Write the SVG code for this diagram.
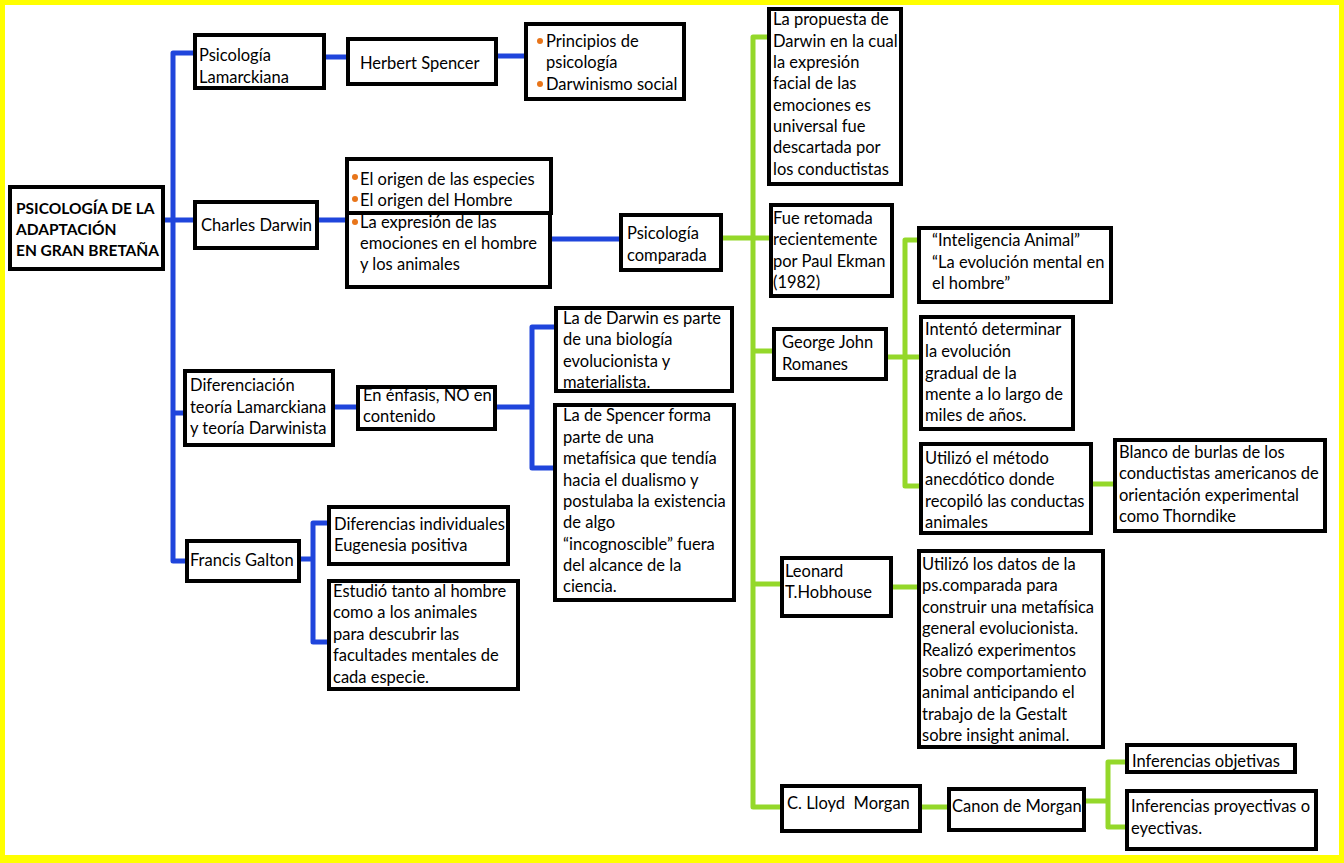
<svg xmlns="http://www.w3.org/2000/svg" width="1344" height="863" viewBox="0 0 1344 863">
<style>
.bx{fill:#fff;stroke:#000;stroke-width:4}
.t{font-family:Lato,"Liberation Sans",sans-serif;font-size:16.5px;fill:#000}
.tb{font-family:Lato,"Liberation Sans",sans-serif;font-size:15.5px;font-weight:bold;fill:#000}
.bl{stroke:#1f45dc;stroke-width:5;stroke-linecap:round;fill:none}
.gr{stroke:#94d82a;stroke-width:5;stroke-linecap:round;fill:none}
.dot{fill:#e8751a}
</style>
<rect x="0" y="0" width="1344" height="863" fill="#ffff00"/>
<rect x="5" y="5" width="1334" height="850" fill="#fff"/>

<g id="connectors">
<path class="bl" d="M173 53V561M173 53H193M165 220H193M173 413H185M173 561H187M326 57H346M498 56H524M319 220H345M552 239H619M335 407H356M497 407H532M532 327V468M532 327H554M532 468H554M300 559H313M313 523V642M313 523H327M313 642H327"/>
<path class="gr" d="M723 238H770M753 37V807M753 37H769M753 351H772M753 584H780M753 807H782M888 357H922M905 240V486M905 240H919M905 486H921M1093 484H1115M893 587H917M922 807H948M1086 801H1108M1108 762V827M1108 762H1127M1108 827H1127"/>
</g>

<g id="n-main"><rect class="bx" x="10" y="187" width="153" height="82"/>
<text class="tb"><tspan x="16" y="214">PSICOLOGÍA DE LA</tspan><tspan x="16" y="235">ADAPTACIÓN</tspan><tspan x="16" y="256">EN GRAN BRETAÑA</tspan></text></g>

<g id="n-lamarck"><rect class="bx" x="195" y="35" width="129" height="53"/>
<text class="t"><tspan x="199" y="61">Psicología</tspan><tspan x="199" y="83">Lamarckiana</tspan></text></g>

<g id="n-spencer"><rect class="bx" x="348" y="39" width="148" height="45"/>
<text class="t" x="360" y="69">Herbert Spencer</text></g>

<g id="n-principios"><rect class="bx" x="526" y="24" width="158" height="75"/>
<circle class="dot" cx="540" cy="41" r="3"/><circle class="dot" cx="540" cy="84" r="3"/>
<text class="t"><tspan x="546" y="47">Principios de</tspan><tspan x="546" y="68">psicología</tspan><tspan x="546" y="90">Darwinismo social</tspan></text></g>

<g id="n-darwin"><rect class="bx" x="195" y="202" width="122" height="46"/>
<text class="t" x="201" y="231">Charles Darwin</text></g>

<g id="n-books"><rect class="bx" x="347" y="159" width="204" height="54"/><rect class="bx" x="347" y="213" width="203" height="74"/>
<circle class="dot" cx="355" cy="177" r="3"/><circle class="dot" cx="355" cy="199" r="3"/><circle class="dot" cx="355" cy="222" r="3"/>
<text class="t"><tspan x="360" y="185">El origen de las especies</tspan><tspan x="360" y="206">El origen del Hombre</tspan><tspan x="360" y="228">La expresión de las</tspan><tspan x="360" y="249">emociones en el hombre</tspan><tspan x="360" y="270">y los animales</tspan></text></g>

<g id="n-comparada"><rect class="bx" x="621" y="215" width="100" height="55"/>
<text class="t"><tspan x="627" y="239">Psicología</tspan><tspan x="627" y="261">comparada</tspan></text></g>

<g id="n-propuesta"><rect class="bx" x="769" y="9" width="132" height="175"/>
<text class="t"><tspan x="773" y="25">La propuesta de</tspan><tspan x="773" y="47">Darwin en la cual</tspan><tspan x="773" y="68">la expresión</tspan><tspan x="773" y="89">facial de las</tspan><tspan x="773" y="111">emociones es</tspan><tspan x="773" y="132">universal fue</tspan><tspan x="773" y="153">descartada por</tspan><tspan x="773" y="175">los conductistas</tspan></text></g>

<g id="n-ekman"><rect class="bx" x="771" y="205" width="121" height="91"/>
<text class="t"><tspan x="773" y="224">Fue retomada</tspan><tspan x="773" y="245">recientemente</tspan><tspan x="773" y="267">por Paul Ekman</tspan><tspan x="773" y="288">(1982)</tspan></text></g>

<g id="n-inteligencia"><rect class="bx" x="919" y="228" width="192" height="74"/>
<text class="t"><tspan x="932" y="246">“Inteligencia Animal”</tspan><tspan x="932" y="268">“La evolución mental en</tspan><tspan x="932" y="289">el hombre”</tspan></text></g>

<g id="n-romanes"><rect class="bx" x="774" y="329" width="112" height="50"/>
<text class="t"><tspan x="782" y="348">George John</tspan><tspan x="782" y="370">Romanes</tspan></text></g>

<g id="n-intento"><rect class="bx" x="921" y="317" width="152" height="112"/>
<text class="t"><tspan x="925" y="335">Intentó determinar</tspan><tspan x="925" y="357">la evolución</tspan><tspan x="925" y="379">gradual de la</tspan><tspan x="925" y="400">mente a lo largo de</tspan><tspan x="925" y="421">miles de años.</tspan></text></g>

<g id="n-metodo"><rect class="bx" x="921" y="444" width="170" height="89"/>
<text class="t"><tspan x="925" y="464">Utilizó el método</tspan><tspan x="925" y="485">anecdótico donde</tspan><tspan x="925" y="507">recopiló las conductas</tspan><tspan x="925" y="528">animales</tspan></text></g>

<g id="n-blanco"><rect class="bx" x="1115" y="440" width="210" height="91"/>
<text class="t"><tspan x="1119" y="458">Blanco de burlas de los</tspan><tspan x="1119" y="479">conductistas americanos de</tspan><tspan x="1119" y="501">orientación experimental</tspan><tspan x="1119" y="522">como Thorndike</tspan></text></g>

<g id="n-diferenciacion"><rect class="bx" x="185" y="371" width="148" height="74"/>
<text class="t"><tspan x="190" y="391">Diferenciación</tspan><tspan x="190" y="413">teoría Lamarckiana</tspan><tspan x="190" y="434">y teoría Darwinista</tspan></text></g>

<g id="n-enfasis"><rect class="bx" x="358" y="387" width="137" height="42"/>
<text class="t"><tspan x="363" y="401">En énfasis, NO en</tspan><tspan x="363" y="422">contenido</tspan></text></g>

<g id="n-ladarwin"><rect class="bx" x="556" y="308" width="176" height="83"/>
<text class="t"><tspan x="563" y="324">La de Darwin es parte</tspan><tspan x="563" y="345">de una biología</tspan><tspan x="563" y="367">evolucionista y</tspan><tspan x="563" y="388">materialista.</tspan></text></g>

<g id="n-laspencer"><rect class="bx" x="555" y="405" width="179" height="195"/>
<text class="t"><tspan x="563" y="421">La de Spencer forma</tspan><tspan x="563" y="443">parte de una</tspan><tspan x="563" y="464">metafísica que tendía</tspan><tspan x="563" y="486">hacia el dualismo y</tspan><tspan x="563" y="507">postulaba la existencia</tspan><tspan x="563" y="528">de algo</tspan><tspan x="563" y="550">“incognoscible” fuera</tspan><tspan x="563" y="571">del alcance de la</tspan><tspan x="563" y="592">ciencia.</tspan></text></g>

<g id="n-galton"><rect class="bx" x="187" y="541" width="112" height="40"/>
<text class="t" x="190" y="566">Francis Galton</text></g>

<g id="n-diferencias"><rect class="bx" x="329" y="507" width="179" height="57"/>
<text class="t"><tspan x="334" y="530">Diferencias individuales</tspan><tspan x="334" y="551">Eugenesia positiva</tspan></text></g>

<g id="n-estudio"><rect class="bx" x="329" y="581" width="189" height="108"/>
<text class="t"><tspan x="333" y="597">Estudió tanto al hombre</tspan><tspan x="333" y="618">como a los animales</tspan><tspan x="333" y="640">para descubrir las</tspan><tspan x="333" y="661">facultades mentales de</tspan><tspan x="333" y="683">cada especie.</tspan></text></g>

<g id="n-leonard"><rect class="bx" x="782" y="558" width="109" height="58"/>
<text class="t"><tspan x="785" y="577">Leonard</tspan><tspan x="785" y="598">T.Hobhouse</tspan></text></g>

<g id="n-datos"><rect class="bx" x="919" y="551" width="184" height="196"/>
<text class="t"><tspan x="922" y="570">Utilizó los datos de la</tspan><tspan x="922" y="591">ps.comparada para</tspan><tspan x="922" y="613">construir una metafísica</tspan><tspan x="922" y="634">general evolucionista.</tspan><tspan x="922" y="656">Realizó experimentos</tspan><tspan x="922" y="677">sobre comportamiento</tspan><tspan x="922" y="698">animal anticipando el</tspan><tspan x="922" y="720">trabajo de la Gestalt</tspan><tspan x="922" y="741">sobre insight animal.</tspan></text></g>

<g id="n-morgan"><rect class="bx" x="782" y="786" width="138" height="45"/>
<text class="t" x="787" y="809" style="white-space:pre">C. Lloyd  Morgan</text></g>

<g id="n-canon"><rect class="bx" x="949" y="789" width="135" height="41"/>
<text class="t" x="952" y="812">Canon de Morgan</text></g>

<g id="n-objetivas"><rect class="bx" x="1127" y="745" width="168" height="27"/>
<text class="t" x="1132" y="767">Inferencias objetivas</text></g>

<g id="n-proyectivas"><rect class="bx" x="1127" y="791" width="189" height="58"/>
<text class="t"><tspan x="1131" y="812">Inferencias proyectivas o</tspan><tspan x="1131" y="834">eyectivas.</tspan></text></g>
</svg>
